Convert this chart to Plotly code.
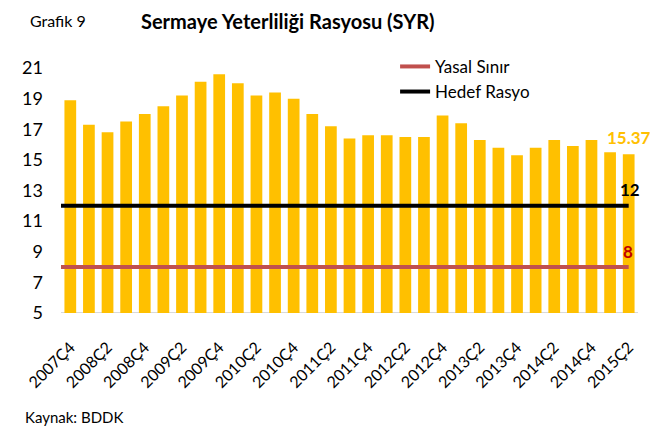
import plotly.graph_objects as go

categories = ["2007Ç4",
              "2008Ç1", "2008Ç2", "2008Ç3", "2008Ç4",
              "2009Ç1", "2009Ç2", "2009Ç3", "2009Ç4",
              "2010Ç1", "2010Ç2", "2010Ç3", "2010Ç4",
              "2011Ç1", "2011Ç2", "2011Ç3", "2011Ç4",
              "2012Ç1", "2012Ç2", "2012Ç3", "2012Ç4",
              "2013Ç1", "2013Ç2", "2013Ç3", "2013Ç4",
              "2014Ç1", "2014Ç2", "2014Ç3", "2014Ç4",
              "2015Ç1", "2015Ç2"]
syr = [18.9,
       17.3, 16.8, 17.5, 18.0,
       18.5, 19.2, 20.1, 20.6,
       20.0, 19.2, 19.4, 19.0,
       18.0, 17.2, 16.4, 16.6,
       16.6, 16.5, 16.5, 17.9,
       17.4, 16.3, 15.8, 15.3,
       15.8, 16.3, 15.9, 16.3,
       15.5, 15.37]
yasal_sinir = 8
hedef_rasyo = 12
y_ticks = [5, 7, 9, 11, 13, 15, 17, 19, 21]

FONT = "Lato"
idx = list(range(len(categories)))
base = 5

fig = go.Figure()
fig.add_trace(go.Bar(
    x=idx, y=[v - base for v in syr], base=base,
    marker=dict(color="#FFC000", line=dict(width=0)),
    showlegend=False, hoverinfo="skip",
))
line_x = [idx[0] - 0.5, idx[-1]]
fig.add_trace(go.Scatter(
    x=line_x, y=[yasal_sinir] * 2, mode="lines", name="Yasal Sınır",
    line=dict(color="#C0504D", width=4),
))
fig.add_trace(go.Scatter(
    x=line_x, y=[hedef_rasyo] * 2, mode="lines", name="Hedef Rasyo",
    line=dict(color="#000000", width=4),
))

fig.add_annotation(x=idx[-1], y=syr[-1], text="<b>%.2f</b>" % syr[-1],
                   showarrow=False, xanchor="left", yanchor="bottom",
                   xshift=-24, yshift=4,
                   font=dict(family=FONT, size=17, color="#FFC000"))
fig.add_annotation(x=idx[-1], y=hedef_rasyo, text="<b>%d</b>" % hedef_rasyo,
                   showarrow=False, xanchor="center", yanchor="bottom",
                   xshift=1, yshift=4,
                   font=dict(family=FONT, size=17, color="#000000"))
fig.add_annotation(x=idx[-1], y=yasal_sinir, text="<b>%d</b>" % yasal_sinir,
                   showarrow=False, xanchor="center", yanchor="bottom",
                   xshift=-1, yshift=3,
                   font=dict(family=FONT, size=17, color="#C00000"))

fig.add_annotation(xref="paper", yref="paper", x=-0.006, y=1.192,
                   text="Grafik 9", showarrow=False, xanchor="center", yanchor="middle",
                   font=dict(family=FONT, size=16, color="#000000"))
fig.add_annotation(xref="paper", yref="paper", x=0.393, y=1.192,
                   text="<b>Sermaye Yeterliliği Rasyosu (SYR)</b>", showarrow=False,
                   xanchor="center", yanchor="middle",
                   font=dict(family=FONT, size=20, color="#000000"))
fig.add_annotation(xref="paper", yref="paper", x=-0.066, y=-0.424,
                   text="Kaynak: BDDK", showarrow=False, xanchor="left", yanchor="middle",
                   font=dict(family=FONT, size=15, color="#000000"))

fig.update_layout(
    width=650, height=432,
    margin=dict(l=61, r=12, t=68, b=119),
    paper_bgcolor="white", plot_bgcolor="white",
    bargap=0.37,
    font=dict(family=FONT, size=15, color="#000000"),
    legend=dict(x=0.579, y=1.078, xanchor="left", yanchor="top",
                bgcolor="rgba(0,0,0,0)", font=dict(family=FONT, size=17),
                tracegroupgap=0),
    xaxis=dict(range=[-0.5, len(categories) - 0.5],
               tickmode="array", tickvals=idx[::2], ticktext=categories[::2],
               tickangle=-45, showgrid=False, zeroline=False,
               showline=False, ticks="", ticklabelstandoff=21,
               tickfont=dict(size=16)),
    yaxis=dict(range=[5, 21], tickmode="array", tickvals=y_ticks,
               showgrid=False, zeroline=False, showline=False, ticks="",
               ticklabelstandoff=17, tickfont=dict(size=18)),
)
fig.add_hline(y=base, line=dict(color="#D9D9D9", width=2), layer="below")

fig.write_html("out.html", config={"displayModeBar": False},
               post_script="document.body.style.margin='0';")
